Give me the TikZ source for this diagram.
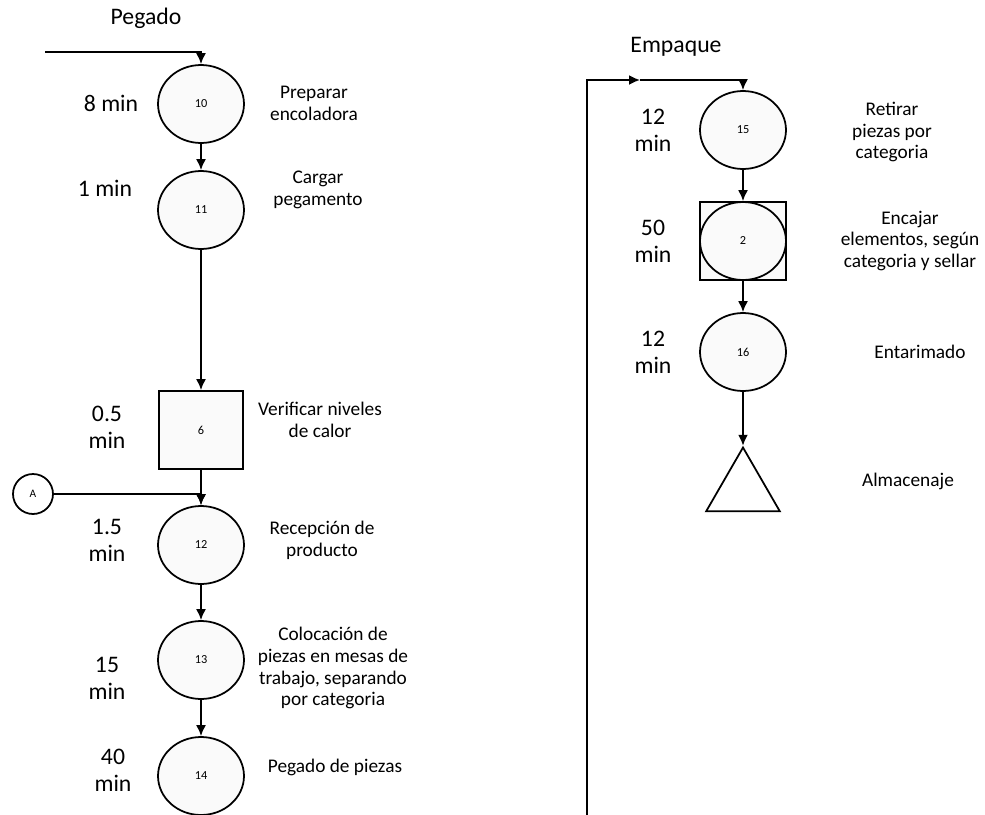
\documentclass[tikz,border=0pt]{standalone}
\usepackage{fontspec}
\setmainfont{Carlito}
\usetikzlibrary{shapes.geometric,arrows.meta}

\begin{document}
\begin{tikzpicture}[x=0.02cm,y=-0.02cm,>={Latex[length=2.2mm,width=2mm]},line width=1pt,
    op/.style={ellipse,draw,fill=gray!4,minimum width=1.72cm,minimum height=1.56cm,inner sep=0pt,font=\fontsize{7}{8}\selectfont},
    insp/.style={rectangle,draw,fill=gray!4,minimum width=1.68cm,minimum height=1.56cm,inner sep=0pt,font=\fontsize{7}{8}\selectfont},
    tiempo/.style={align=center,font=\fontsize{13.5}{15.5}\selectfont},
    desc/.style={align=center,font=\fontsize{11}{12.5}\selectfont}]
        \useasboundingbox (0,0) rectangle (985,815);
        % Pegado
        \node[font=\fontsize{13.5}{15}\selectfont] (tPeg) at (146,18) {Pegado};
        \foreach \Num/\Y in {10/104, 11/210, 12/545, 13/660, 14/776}
        \node[op] (o\Num) at (201,\Y) {\Num};
        \node[insp] (i6) at (201,430) {6};
        \node[circle,draw,minimum size=0.8cm,inner sep=0pt,font=\fontsize{6.5}{7}\selectfont] (A) at (33,494) {A};
        \coordinate (pegIn) at (45,52);
        \draw[->] (pegIn) -| (o10.north);
        \draw[->] (o10) -- (o11);
        \draw[->] (o11) -- (i6);
        \draw[->] (i6) -- (o12);
        \draw[->] (A) -| (o12.north);
        \draw[->] (o12) -- (o13);
        \draw[->] (o13) -- (o14);
        \foreach \Pos/\Text in {(111,103)/8 min, (105,188)/1 min, (107,427)/{0.5\\min}, (107,540)/{1.5\\min}, (107,678)/{15\\min}, (113,770)/{40\\min}}
        \node[tiempo] at \Pos {\Text};
        \node[desc] (d10) at (314,103) {Preparar\\encoladora};
        \node[desc] (d11) at (318,190) {Cargar\\pegamento};
        \node[desc] (d6) at (320,420) {Verificar niveles\\de calor};
        \node[desc] (d12) at (322,540) {Recepción de\\producto};
        \node[desc] (d13) at (333,668) {Colocación de\\piezas en mesas de\\trabajo, separando\\por categoria};
        \node[desc] (d14) at (335,767) {Pegado de piezas};
        % Empaque
        \node[font=\fontsize{13.5}{15}\selectfont] (tEmp) at (676,47) {Empaque};
        \node[op] (o15) at (743,130) {15};
        \node[insp,minimum width=1.72cm] (i2) at (743,241) {};
        \node[op,fill=none] (o2) at (743,241) {2};
        \node[op] (o16) at (743,352) {16};
        \node[regular polygon,regular polygon sides=3,draw,minimum size=1.7cm,inner sep=0pt] (alm) at (743,490) {};
        \coordinate (empIn) at (587,815);
        \coordinate (empMid) at (640,80);
        \draw[->] (empIn) |- (empMid);
        \draw[->] (empMid) -| (o15.north);
        \draw[->] (o15) -- (i2);
        \draw[->] (i2) -- (o16);
        \draw[->] (o16) -- (alm.corner 1);
        \foreach \Pos/\Text in {(653,130)/{12\\min}, (653,241)/{50\\min}, (653,352)/{12\\min}}
        \node[tiempo] at \Pos {\Text};
        \node[desc] (d15) at (892,132) {Retirar\\piezas por\\categoria};
        \node[desc] (d2) at (910,241) {Encajar\\elementos, según\\categoria y sellar};
        \node[desc] (d16) at (920,352) {Entarimado};
        \node[desc] (dAlm) at (908,481) {Almacenaje};
\end{tikzpicture}
\end{document}
